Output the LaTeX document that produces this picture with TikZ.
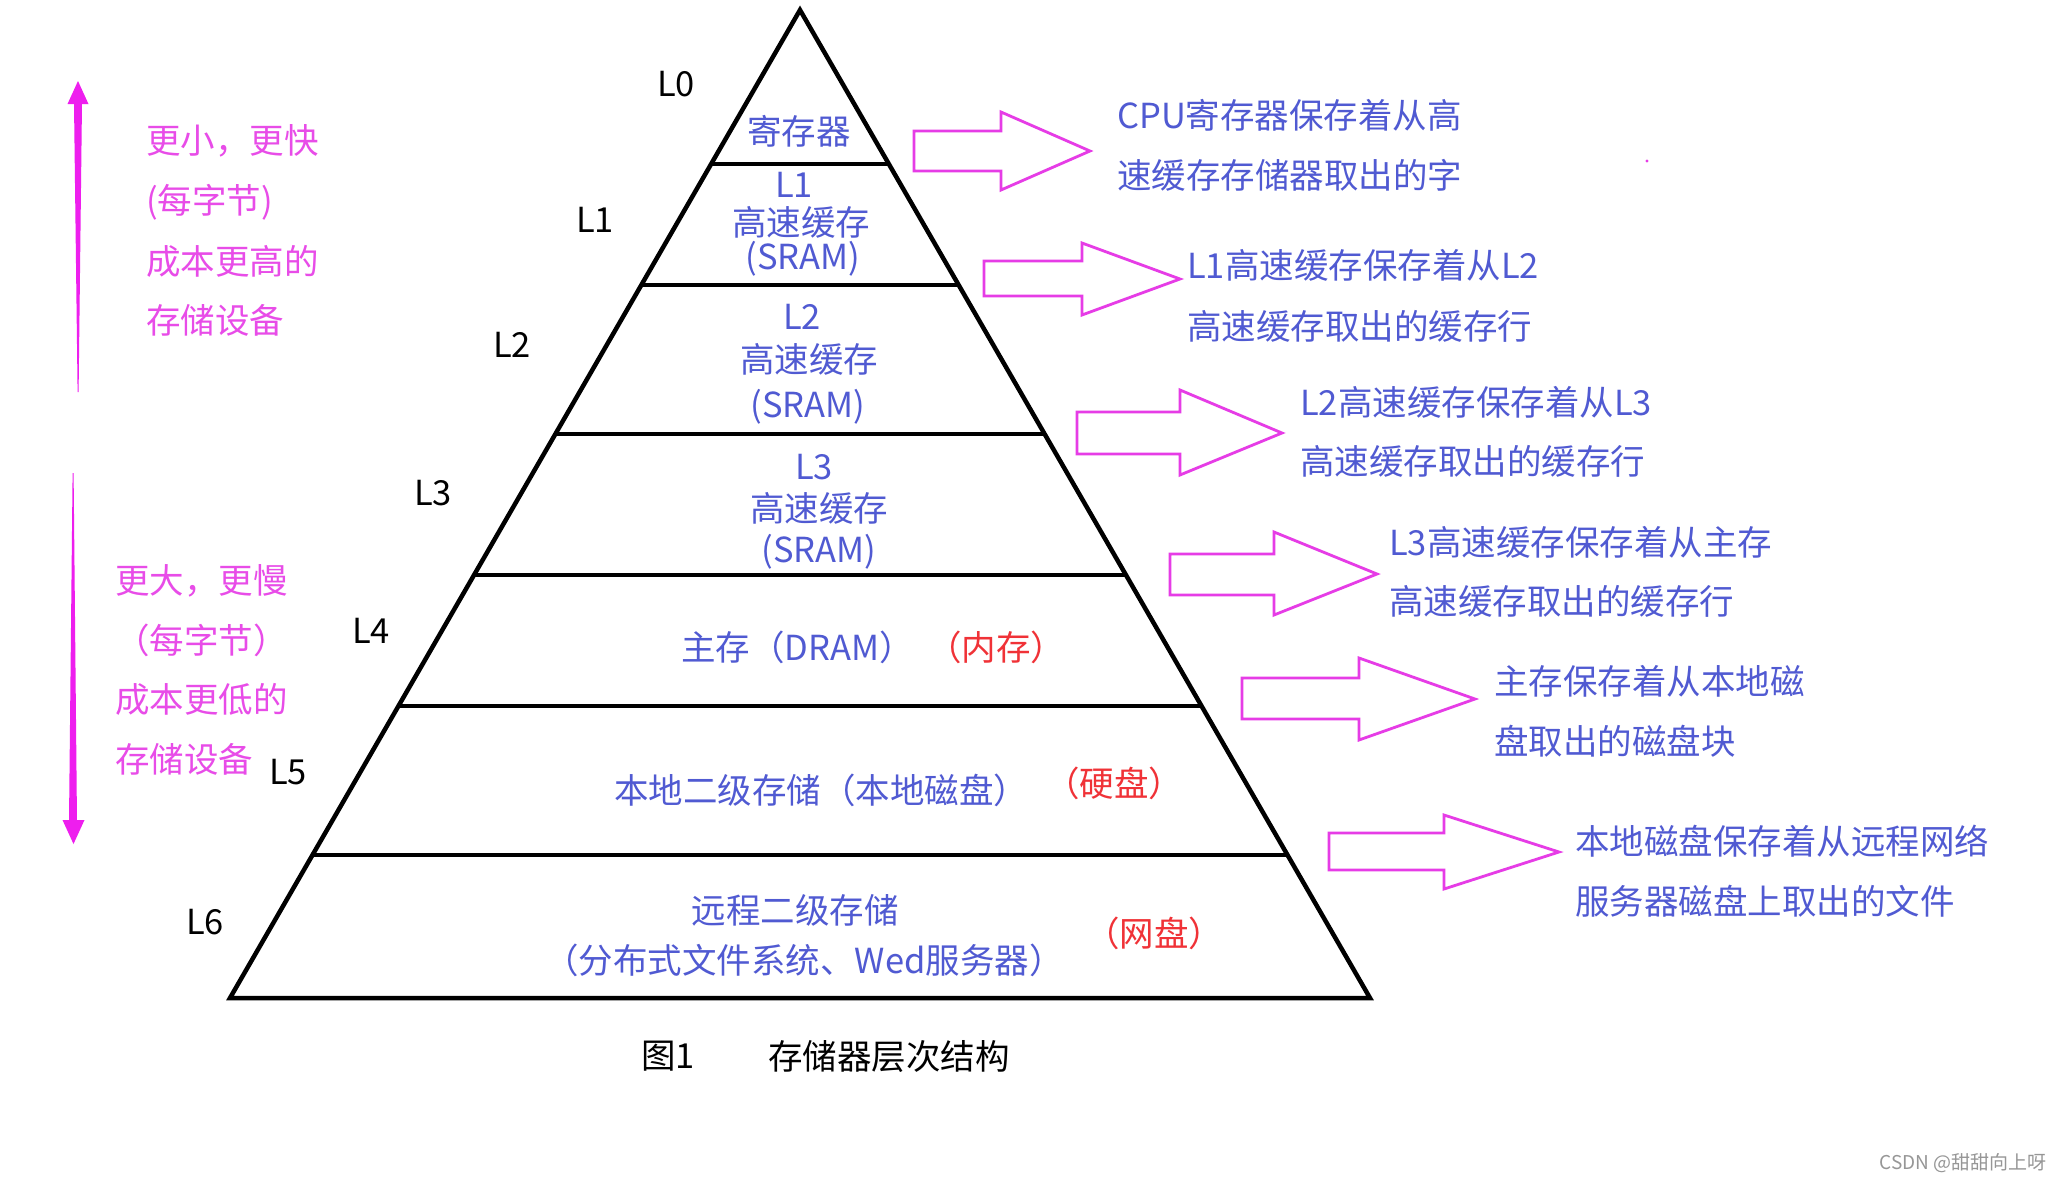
\documentclass[tikz,border=0pt]{standalone}
\usepackage{fontspec}
\setmainfont{Noto Sans CJK SC}
\usetikzlibrary{calc}
\definecolor{tblue}{RGB}{80,90,210}
\definecolor{tred}{RGB}{240,50,55}
\definecolor{tmag}{RGB}{232,76,232}
\definecolor{amag}{RGB}{230,60,230}
\definecolor{lmag}{RGB}{238,30,238}
\definecolor{wgray}{RGB}{150,150,150}
\tikzset{
  txt/.style={font=\fontsize{34.5}{40}\selectfont, inner sep=0pt},
  bluetxt/.style={txt, text=tblue},
  redtxt/.style={txt, text=tred},
  magtxt/.style={txt, text=tmag, anchor=west},
  lvl/.style={txt, text=black},
  pyr/.style={line width=4.5pt, black},
  blockarrow/.style={draw=amag, line width=2.8pt, line join=miter},
}
\begin{document}
\begin{tikzpicture}[x=1pt,y=-1pt]
\fill[white] (0,0) rectangle (2062,1181);
\useasboundingbox (0,0) rectangle (2062,1181);

% pyramid
\coordinate (apex) at (800,10);
\coordinate (bl) at (230,998);
\coordinate (br) at (1370,998);
\draw[pyr] (apex) -- (bl) -- (br) -- cycle;
\foreach \y/\n in {164/a,285/b,434/c,575/d,706/e,855/f}{
  \pgfmathsetmacro{\t}{(\y-10)/988}
  \coordinate (l\n) at ($(apex)!\t!(bl)$);
  \coordinate (r\n) at ($(apex)!\t!(br)$);
  \draw[pyr] (l\n) -- (r\n);
}

% level labels
\node[lvl] (L0) at (676,84) {L0};
\node[lvl] (L1) at (595,220) {L1};
\node[lvl] (L2) at (512,345) {L2};
\node[lvl] (L3) at (433,493) {L3};
\node[lvl] (L4) at (371,631) {L4};
\node[lvl] (L5) at (288,772) {L5};
\node[lvl] (L6) at (205,922) {L6};

% texts inside pyramid
\node[bluetxt] (reg) at (799,131) {寄存器};
\node[bluetxt] (c1a) at (794,185) {L1};
\node[bluetxt] (c1b) at (801,222) {高速缓存};
\node[bluetxt] (c1c) at (803,259) {(SRAM)};
\node[bluetxt] (c2a) at (802,317) {L2};
\node[bluetxt] (c2b) at (809,359) {高速缓存};
\node[bluetxt] (c2c) at (808,407) {(SRAM)};
\node[bluetxt] (c3a) at (814,467) {L3};
\node[bluetxt] (c3b) at (819,508) {高速缓存};
\node[bluetxt] (c3c) at (819,552) {(SRAM)};
\node[bluetxt, anchor=west] (mem) at (681,647) {主存（DRAM）};
\node[redtxt] (memr) at (996,647) {（内存）};
\node[bluetxt, anchor=west] (disk) at (614,790) {本地二级存储（本地磁盘）};
\node[redtxt] (diskr) at (1114,783) {（硬盘）};
\node[bluetxt] (rema) at (795,910) {远程二级存储};
\node[bluetxt] (remb) at (804,960) {（分布式文件系统、Wed服务器）};
\node[redtxt] (remr) at (1154,933) {（网盘）};

% caption
\node[lvl] (fig) at (668,1056) {图1};
\node[lvl] (cap) at (889,1056) {存储器层次结构};

% left arrows (tapered)
\fill[lmag] (74,103) -- (82,103) -- (78.6,392) -- (77.6,392) -- cycle;
\fill[lmag] (67.5,104) -- (78,81) -- (88.5,104) -- cycle;
\fill[lmag] (72.6,473) -- (73.6,473) -- (77,822) -- (69,822) -- cycle;
\fill[lmag] (62.5,820) -- (73.5,844) -- (84.5,820) -- cycle;

% left texts
\node[magtxt] (s1) at (146,141) {更小，更快};
\node[magtxt] (s2) at (146,202) {(每字节)};
\node[magtxt] (s3) at (146,261) {成本更高的};
\node[magtxt] (s4) at (146,320) {存储设备};
\node[magtxt] (b1) at (115,581) {更大，更慢};
\node[magtxt] (b2) at (115,640) {（每字节）};
\node[magtxt] (b3) at (115,699) {成本更低的};
\node[magtxt] (b4) at (115,759) {存储设备};

% block arrows
\draw[blockarrow] (914,131) -- (1001,131) -- (1001,112) -- (1090,151) -- (1001,190) -- (1001,171) -- (914,171) -- cycle;
\draw[blockarrow] (984,261) -- (1082,261) -- (1082,243) -- (1180,279) -- (1082,315) -- (1082,296) -- (984,296) -- cycle;
\draw[blockarrow] (1077,412) -- (1180,412) -- (1180,390) -- (1282,433) -- (1180,475) -- (1180,454) -- (1077,454) -- cycle;
\draw[blockarrow] (1170,554) -- (1274,554) -- (1274,532) -- (1377,574) -- (1274,615) -- (1274,595) -- (1170,595) -- cycle;
\draw[blockarrow] (1242,678) -- (1359,678) -- (1359,658) -- (1475,699) -- (1359,740) -- (1359,719) -- (1242,719) -- cycle;
\draw[blockarrow] (1329,833) -- (1444,833) -- (1444,815) -- (1559,852) -- (1444,889) -- (1444,870) -- (1329,870) -- cycle;

% right descriptions
\node[bluetxt, anchor=west] (d1a) at (1117,115) {CPU寄存器保存着从高};
\node[bluetxt, anchor=west] (d1b) at (1117,175) {速缓存存储器取出的字};
\node[bluetxt, anchor=west] (d2a) at (1187,265) {L1高速缓存保存着从L2};
\node[bluetxt, anchor=west] (d2b) at (1187,326) {高速缓存取出的缓存行};
\node[bluetxt, anchor=west] (d3a) at (1300,402) {L2高速缓存保存着从L3};
\node[bluetxt, anchor=west] (d3b) at (1300,461) {高速缓存取出的缓存行};
\node[bluetxt, anchor=west] (d4a) at (1389,542) {L3高速缓存保存着从主存};
\node[bluetxt, anchor=west] (d4b) at (1389,601) {高速缓存取出的缓存行};
\node[bluetxt, anchor=west] (d5a) at (1494,681) {主存保存着从本地磁};
\node[bluetxt, anchor=west] (d5b) at (1494,741) {盘取出的磁盘块};
\node[bluetxt, anchor=west] (d6a) at (1575,841) {本地磁盘保存着从远程网络};
\node[bluetxt, anchor=west] (d6b) at (1575,901) {服务器磁盘上取出的文件};

% stray dot
\fill[amag] (1647,161) circle (1.6);

% watermark
\node[font=\fontsize{19}{22}\selectfont, text=wgray, inner sep=0pt, anchor=east] (wm) at (2047,1163) {CSDN @甜甜向上呀};
\end{tikzpicture}
\end{document}
